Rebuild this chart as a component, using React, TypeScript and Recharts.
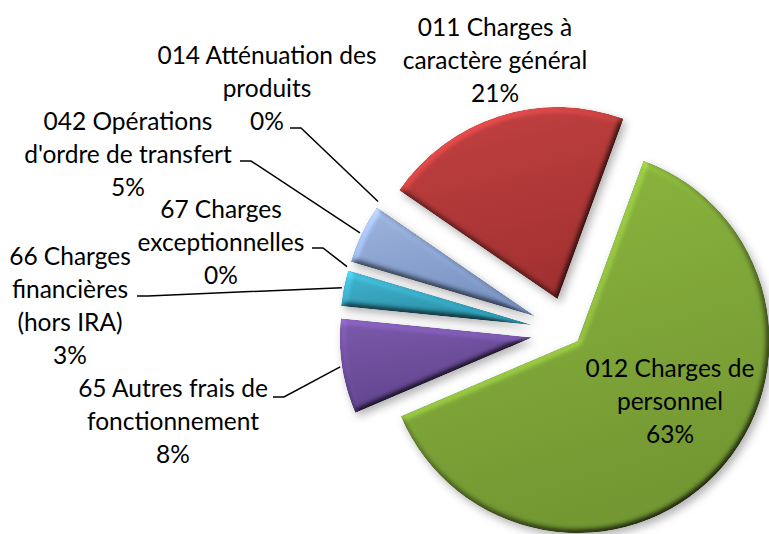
import { PieChart, Pie, Cell, Sector } from "recharts";

// Excel series order (first slice starts just left of 12 o'clock, clockwise)
const CATEGORIES = [
  "014 Atténuation des produits",
  "011 Charges à caractère général",
  "012 Charges de personnel",
  "65 Autres frais de fonctionnement",
  "66 Charges financières (hors IRA)",
  "67 Charges exceptionnelles",
  "042 Opérations d'ordre de transfert",
];
const LABEL_LINES = [
  ["014 Atténuation des", "produits"],
  ["011 Charges à", "caractère général"],
  ["012 Charges de", "personnel"],
  ["65 Autres frais de", "fonctionnement"],
  ["66 Charges", "financières", "(hors IRA)"],
  ["67 Charges", "exceptionnelles"],
  ["042 Opérations", "d'ordre de transfert"],
];
const VALUES = [0, 21, 63, 8, 3, 0, 5];

// styling
const COLORS_TOP = ["#8fa9d6", "#c64242", "#8fbc40", "#7d5aae", "#43b8d2", "#f79646", "#a0b8e2"];
const COLORS_BOTTOM = ["#6f8cc0", "#a63232", "#759a33", "#624590", "#2c93ab", "#d07020", "#7c95c6"];
const EXPLODE = [0.19, 0.18, 0.068, 0.19, 0.19, 0.19, 0.19];

// text centre x, first baseline y, leader start (x, y) or null
const LABEL_LAYOUT = [
  { x: 267, y: 64, leader: [290, 128] },
  { x: 495, y: 36, leader: null },
  { x: 670, y: 377, leader: null },
  { x: 173, y: 397, leader: [273, 397] },
  { x: 70, y: 265, leader: [137, 296] },
  { x: 221, y: 218, leader: [312, 248] },
  { x: 128, y: 130, leader: [240, 161] },
];

const RAD = Math.PI / 180;
const LINE_H = 33;

const data = CATEGORIES.map((name, i) => ({ name, value: VALUES[i] }));

const renderSlice = (props: any) => {
  const { cx, cy, outerRadius, startAngle, endAngle, midAngle, percent, index } = props;
  const d = EXPLODE[index] * outerRadius;
  const ox = d * Math.cos(-midAngle * RAD);
  const oy = d * Math.sin(-midAngle * RAD);
  const layout = LABEL_LAYOUT[index];
  const lines = [...LABEL_LINES[index], `${Math.round(percent * 100)}%`];

  let leader = null;
  if (layout.leader) {
    const r = outerRadius + d + 2;
    const tx = cx + r * Math.cos(-midAngle * RAD);
    const ty = cy + r * Math.sin(-midAngle * RAD);
    const [sx, sy] = layout.leader;
    leader = (
      <polyline
        points={`${sx},${sy} ${sx + 11},${sy} ${tx},${ty}`}
        fill="none"
        stroke="#000"
        strokeWidth={1.5}
      />
    );
  }

  return (
    <g key={`slice-${index}`}>
      {index === 0 && (
        <defs>
          {COLORS_TOP.map((c, i) => (
            <linearGradient key={i} id={`grad${i}`} x1="0" y1="0" x2="0.3" y2="1">
              <stop offset="0%" stopColor={c} />
              <stop offset="100%" stopColor={COLORS_BOTTOM[i]} />
            </linearGradient>
          ))}
          <filter id="bevel" x="-15%" y="-15%" width="135%" height="135%" colorInterpolationFilters="sRGB">
            <feGaussianBlur in="SourceAlpha" stdDeviation="3" result="blur" />
            <feDiffuseLighting in="blur" surfaceScale="3.5" diffuseConstant="1" lightingColor="#fff" result="diff">
              <feDistantLight azimuth="235" elevation="55" />
            </feDiffuseLighting>
            <feComposite in="SourceGraphic" in2="diff" operator="arithmetic" k1="1.2" k2="0" k3="0" k4="0" result="lit" />
            <feComposite in="lit" in2="SourceAlpha" operator="in" result="litIn" />
            <feOffset in="SourceAlpha" dx="3" dy="4" result="off" />
            <feGaussianBlur in="off" stdDeviation="4" result="shBlur" />
            <feFlood floodColor="#000" floodOpacity="0.3" />
            <feComposite in2="shBlur" operator="in" result="shadow" />
            <feMerge>
              <feMergeNode in="shadow" />
              <feMergeNode in="litIn" />
            </feMerge>
          </filter>
        </defs>
      )}
      {startAngle !== endAngle && (
        <Sector
          cx={cx + ox}
          cy={cy + oy}
          innerRadius={0}
          outerRadius={outerRadius}
          startAngle={startAngle}
          endAngle={endAngle}
          fill={`url(#grad${index})`}
          stroke="none"
          filter="url(#bevel)"
        />
      )}
      {leader}
      <text
        x={layout.x}
        y={layout.y}
        textAnchor="middle"
        fontFamily="Lato, 'Open Sans', sans-serif"
        fontSize={24.5}
        fill="#000"
      >
        {lines.map((l, i) => (
          <tspan key={i} x={layout.x} y={layout.y + i * LINE_H}>
            {l}
          </tspan>
        ))}
      </text>
    </g>
  );
};

export default function App() {
  return (
    <div style={{ position: "absolute", left: 0, top: 0, width: 769, height: 534, background: "#fff" }}>
      <PieChart width={769} height={534} margin={{ top: 0, right: 0, bottom: 0, left: 0 }}>
        <Pie
          data={data}
          dataKey="value"
          nameKey="name"
          cx={568}
          cy={332}
          innerRadius={0}
          outerRadius={192}
          startAngle={145.5}
          endAngle={-214.5}
          stroke="none"
          labelLine={false}
          label={renderSlice}
          isAnimationActive={false}
        >
          {data.map((entry) => (
            <Cell key={entry.name} fill="transparent" />
          ))}
        </Pie>
      </PieChart>
    </div>
  );
}
